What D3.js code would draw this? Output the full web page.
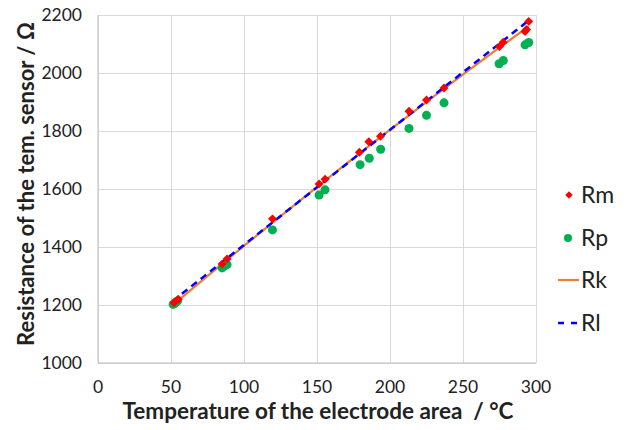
<!DOCTYPE html>
<html>
<head>
<meta charset="utf-8">
<script src="https://cdn.jsdelivr.net/npm/d3@7"></script>
<style>
  body { margin: 0; background: #fff; }
  text { font-family: Lato, "Open Sans", sans-serif; fill: #222; }
</style>
</head>
<body>
<script>
// measured points, Rm
var rmT = [52, 55, 85, 88.4, 119.5, 151.4, 155.5, 179, 185.5, 193.5, 213, 225, 237, 275, 277.5, 292.5, 293.5, 295];
var rmR = [1208, 1220, 1341, 1359, 1497, 1617, 1634, 1727, 1763, 1782, 1868, 1907, 1948, 2091, 2106, 2143, 2150, 2178];
// Rp
var rpT = [51.5, 52.5, 53.5, 54.5, 85, 86.5, 88.4, 119.5, 151.4, 155.5, 179.5, 185.8, 193.6, 213, 225, 237, 274.7, 277.6, 292.5, 295];
var rpR = [1202, 1206, 1210, 1214, 1328, 1334, 1339, 1459, 1579, 1597, 1684, 1706, 1737, 1809, 1854, 1897, 2032, 2043, 2097, 2105];
// Rk curve (slightly bent), Rl straight line
var rkT = [52, 85, 120, 155, 185, 213, 237, 275, 295];
var rkR = [1203, 1342, 1486, 1627, 1746, 1854, 1946, 2088, 2161];
var rlT = [51, 294];
var rlR = [1213, 2177];

var xTicks = [0, 50, 100, 150, 200, 250, 300];
var yTicks = [1000, 1200, 1400, 1600, 1800, 2000, 2200];
var legendNames = ['Rm', 'Rp', 'Rk', 'Rl'];

var width = 627, height = 430;
var pLeft = 98, pRight = 536, pTop = 15, pBottom = 363;

var svg = d3.select('body').append('svg')
  .attr('width', width)
  .attr('height', height);

var x = d3.scaleLinear().domain([0, 300]).range([pLeft, pRight]);
var y = d3.scaleLinear().domain([1000, 2200]).range([pBottom, pTop]);

// grid
svg.append('g')
  .attr('transform', 'translate(0,' + pBottom + ')')
  .call(d3.axisBottom(x).tickValues(xTicks).tickSize(-(pBottom - pTop)).tickFormat(''))
  .call(function(g){ g.select('.domain').remove(); })
  .selectAll('line').attr('stroke', '#d9d9d9');

svg.append('g')
  .attr('transform', 'translate(' + pLeft + ',0)')
  .call(d3.axisLeft(y).tickValues(yTicks).tickSize(-(pRight - pLeft)).tickFormat(''))
  .call(function(g){ g.select('.domain').remove(); })
  .selectAll('line').attr('stroke', '#d9d9d9');

// axis lines
svg.append('line')
  .attr('x1', pLeft).attr('x2', pLeft).attr('y1', pTop).attr('y2', pBottom)
  .attr('stroke', '#bfbfbf');
svg.append('line')
  .attr('x1', pLeft).attr('x2', pRight).attr('y1', pBottom).attr('y2', pBottom)
  .attr('stroke', '#bfbfbf');

// tick labels
svg.selectAll('.xl')
  .data(xTicks)
  .enter()
  .append('text')
  .attr('x', function(d){ return x(d); })
  .attr('y', 393)
  .attr('text-anchor', 'middle')
  .style('font-size', '17.5px')
  .text(function(d){ return d; });

svg.selectAll('.yl')
  .data(yTicks)
  .enter()
  .append('text')
  .attr('x', 82)
  .attr('y', function(d){ return y(d) + 6; })
  .attr('text-anchor', 'end')
  .style('font-size', '17.5px')
  .text(function(d){ return d; });

// axis titles
svg.append('text')
  .attr('x', 318)
  .attr('y', 419)
  .attr('text-anchor', 'middle')
  .style('font-size', '22.5px')
  .style('font-weight', 'bold')
  .style('white-space', 'pre')
  .text('Temperature of the electrode area  / \u00b0C');

svg.append('text')
  .attr('transform', 'translate(34,184) rotate(-90)')
  .attr('text-anchor', 'middle')
  .style('font-size', '22px')
  .style('font-weight', 'bold')
  .text('Resistance of the tem. sensor / \u03a9');

// lines
var line = d3.line()
  .x(function(d){ return x(d[0]); })
  .y(function(d){ return y(d[1]); })
  .curve(d3.curveMonotoneX);

svg.append('path')
  .datum(d3.zip(rkT, rkR))
  .attr('d', line)
  .attr('fill', 'none')
  .attr('stroke', '#ed7d31')
  .attr('stroke-width', 2.2);

svg.append('path')
  .datum(d3.zip(rlT, rlR))
  .attr('d', line)
  .attr('fill', 'none')
  .attr('stroke', '#0000ff')
  .attr('stroke-width', 2.5)
  .attr('stroke-dasharray', '7,5');

// markers
var diamond = d3.symbol().type(d3.symbolSquare).size(40);

svg.selectAll('.rp')
  .data(d3.zip(rpT, rpR))
  .enter()
  .append('circle')
  .attr('cx', function(d){ return x(d[0]); })
  .attr('cy', function(d){ return y(d[1]); })
  .attr('r', 4.5)
  .style('fill', '#00b050');

svg.selectAll('.rm')
  .data(d3.zip(rmT, rmR))
  .enter()
  .append('path')
  .attr('d', diamond)
  .attr('transform', function(d){ return 'translate(' + x(d[0]) + ',' + y(d[1]) + ') rotate(45)'; })
  .style('fill', '#ff0000');

// legend
var ly = [195, 238, 280, 323];
var leg = svg.selectAll('.leg')
  .data(legendNames)
  .enter()
  .append('g')
  .attr('transform', function(d, i){ return 'translate(0,' + ly[i] + ')'; });

leg.append('text')
  .attr('x', 581)
  .attr('y', 8)
  .style('font-size', '23px')
  .text(function(d){ return d; });

leg.filter(function(d){ return d == 'Rm'; })
  .append('path')
  .attr('d', d3.symbol().type(d3.symbolSquare).size(28))
  .attr('transform', 'translate(569,0) rotate(45)')
  .style('fill', '#ff0000');

leg.filter(function(d){ return d == 'Rp'; })
  .append('circle')
  .attr('cx', 568).attr('r', 4)
  .style('fill', '#00b050');

leg.filter(function(d){ return d == 'Rk'; })
  .append('line')
  .attr('x1', 558).attr('x2', 579)
  .attr('stroke', '#ed7d31').attr('stroke-width', 2.2);

leg.filter(function(d){ return d == 'Rl'; })
  .append('line')
  .attr('x1', 558).attr('x2', 579)
  .attr('stroke', '#0000ff').attr('stroke-width', 2.5)
  .attr('stroke-dasharray', '6,7');
</script>
</body>
</html>
